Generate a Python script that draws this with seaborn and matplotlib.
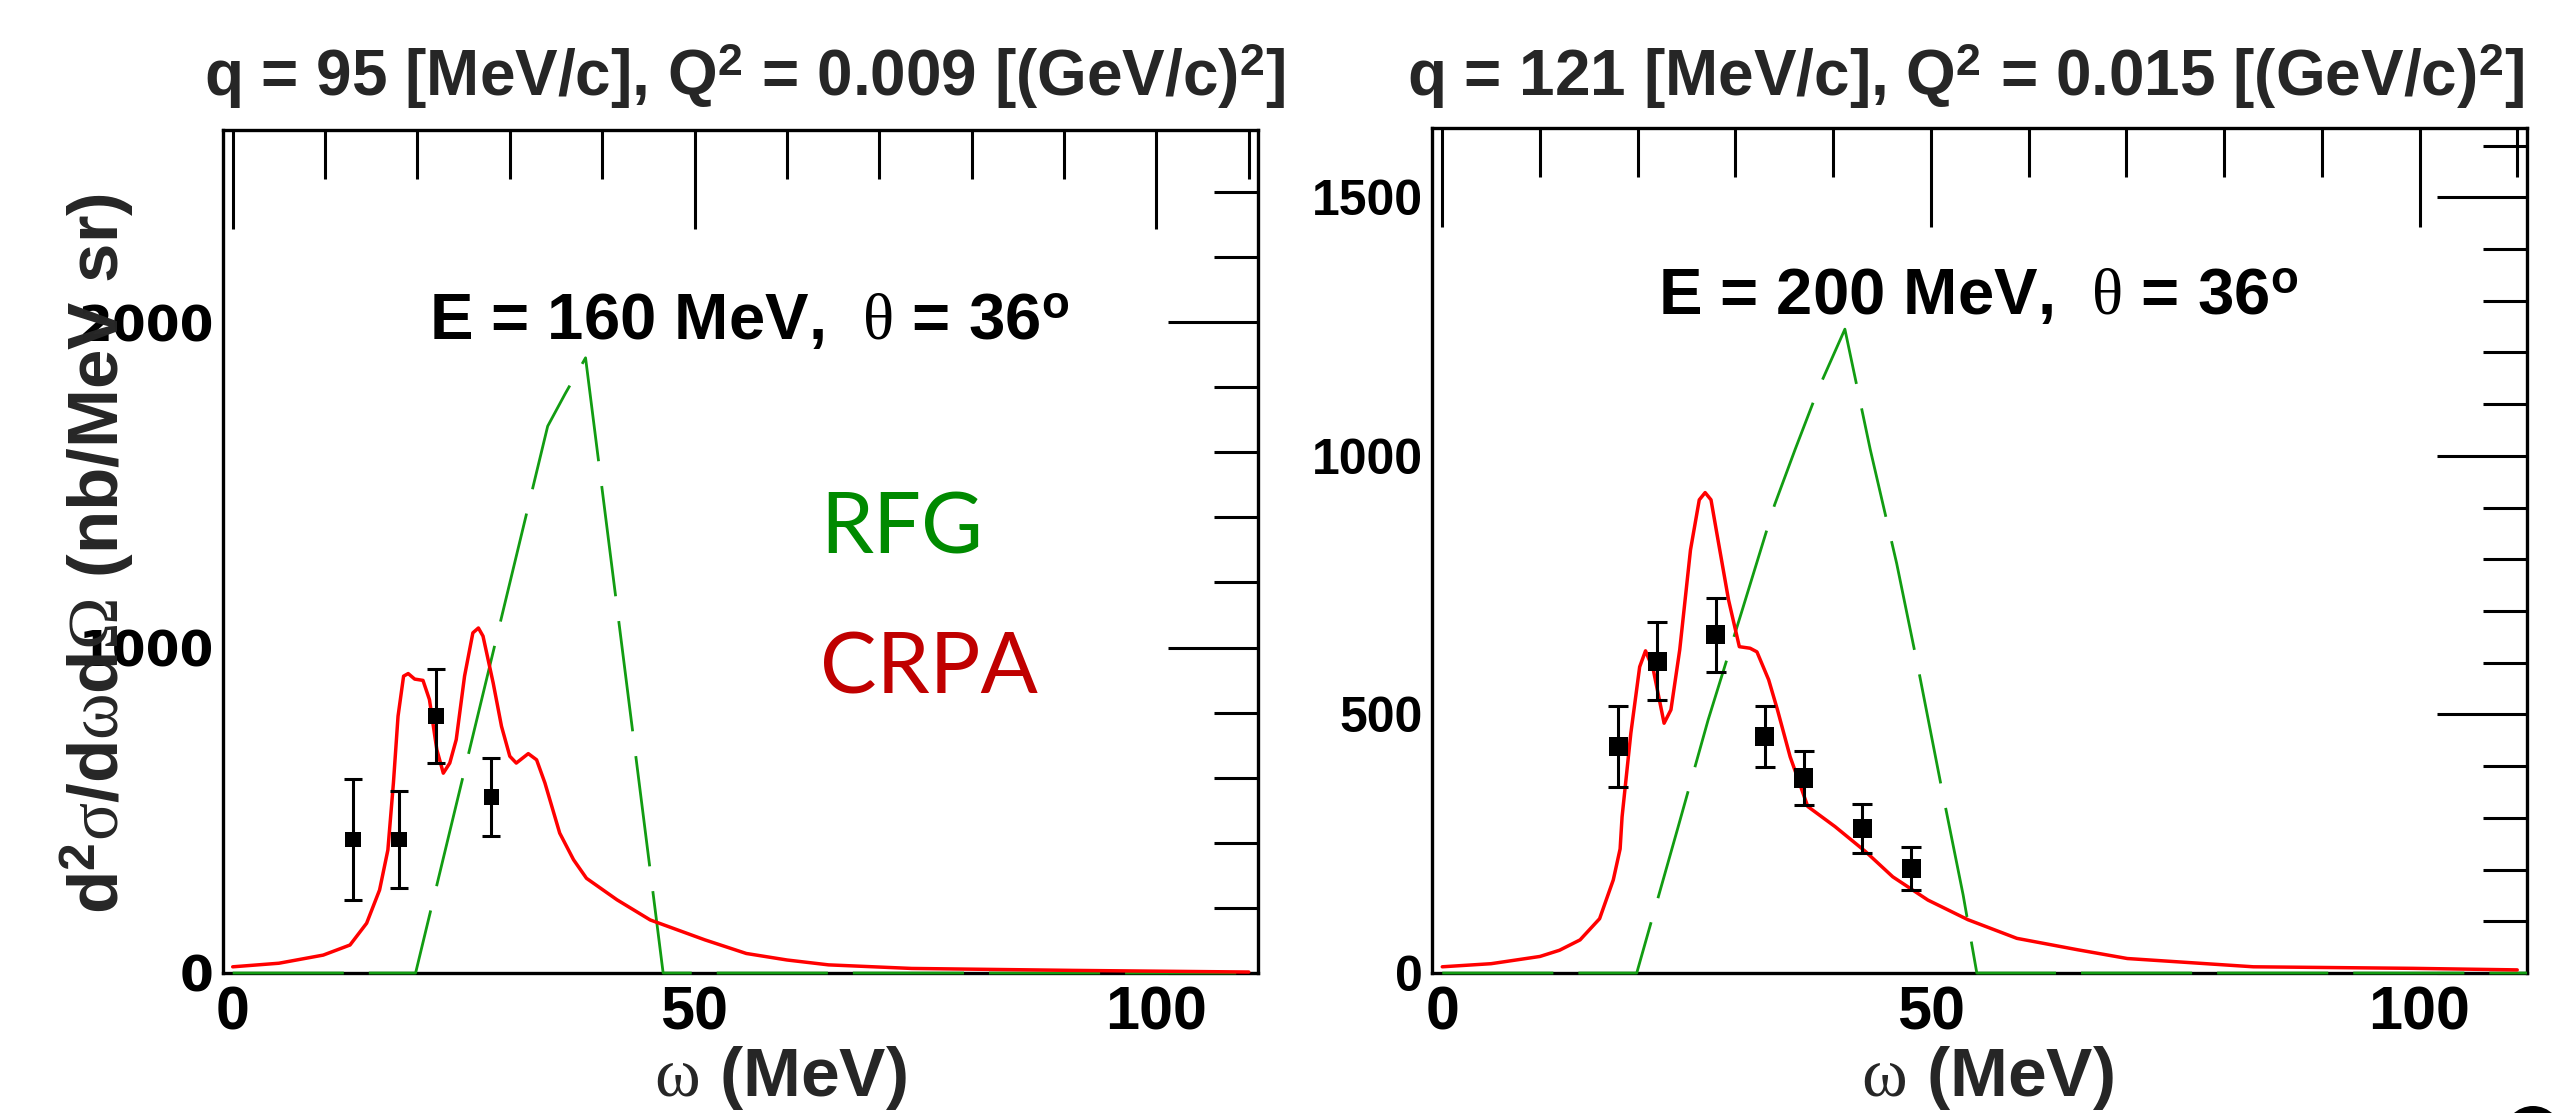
import numpy as np
import pandas as pd
import matplotlib
matplotlib.use("Agg")
import matplotlib.pyplot as plt
import seaborn as sns
from matplotlib.ticker import MultipleLocator, FixedLocator
from matplotlib.patches import Ellipse

# ---------------- data ----------------
# Left panel: q = 95 MeV/c, E = 160 MeV
crpa1_x = [0, 5, 9.8, 12.7, 14.5, 15.9, 16.8, 17.4, 17.9, 18.5, 19.0, 19.7, 20.6, 21.3, 22.1, 22.8,
           23.5, 24.2, 25.1, 26.0, 26.6, 27.1, 28.2, 29.1, 30.0, 30.7, 32.0, 32.9, 33.8, 35.4, 36.9,
           38.3, 41.6, 45.2, 51.1, 55.6, 60, 64.5, 73.5, 91, 110]
crpa1_y = [19, 30, 55, 86, 153, 255, 378, 584, 789, 912, 920, 903, 899, 840, 686, 614,
           645, 717, 912, 1045, 1060, 1035, 891, 758, 666, 645, 674, 655, 584, 430, 348,
           291, 225, 163, 102, 60, 40, 25, 14, 8, 3]
rfg1_x = [0, 19.8, 34.1, 36.0, 38.2, 46.6, 111]
rfg1_y = [0, 0, 1680, 1780, 1890, 0, 0]
data1_x = [13, 18, 22, 28]
data1_y = [410, 410, 790, 540]
data1_err = [185, 150, 145, 120]

# Right panel: q = 121 MeV/c, E = 200 MeV
crpa2_x = [0, 5, 10, 12, 14.1, 16.1, 17.5, 18.2, 18.4, 19.3, 20.2, 20.8, 21.6, 22.7, 23.4, 24.3,
           25.4, 26.3, 26.9, 27.5, 28.1, 29.3, 30.4, 31.5, 32.2, 33.4, 34.3, 35.6, 37.4, 40.2,
           43.3, 46.1, 49.7, 53.8, 58.8, 65, 70.1, 83, 99.3, 110]
crpa2_y = [12, 18, 32, 44, 64, 105, 180, 240, 302, 464, 592, 623, 586, 483, 509, 625,
           818, 915, 929, 915, 850, 721, 631, 628, 621, 567, 509, 418, 322, 283,
           235, 186, 141, 103, 67, 45, 28, 12, 9, 6]
rfg2_x = [0, 19.9, 24.1, 27.2, 30.6, 34.0, 36.1, 38.5, 41.2, 43.8, 46.5, 48.8, 51.0, 53.3, 54.7, 111]
rfg2_y = [0, 0, 280, 489, 696, 905, 1012, 1130, 1245, 1012, 792, 580, 367, 151, 0, 0]
data2_x = [18, 22, 28, 33, 37, 43, 48]
data2_y = [438, 603, 654, 457, 377, 280, 202]
data2_err = [79, 76, 71, 59, 53, 47, 42]

titles = [r"q = 95 [MeV/c], Q$^{2}$ = 0.009 [(GeV/c)$^{2}$]",
          r"q = 121 [MeV/c], Q$^{2}$ = 0.015 [(GeV/c)$^{2}$]"]
kin_labels = [r"E = 160 MeV,  $\mathsf{\theta}$ = 36$^{\mathrm{o}}$",
              r"E = 200 MeV,  $\mathsf{\theta}$ = 36$^{\mathrm{o}}$"]
xlabel = r"$\mathsf{\omega}$ (MeV)"
ylabel = r"d$^{2}\mathsf{\sigma}$/d$\mathsf{\omega}$d$\mathsf{\Omega}$ (nb/MeV sr)"

# ---------------- style ----------------
sns.set_theme(style="white")
plt.rcParams["font.family"] = ["Liberation Sans", "DejaVu Sans"]
plt.rcParams["font.weight"] = "bold"
plt.rcParams["mathtext.fontset"] = "custom"
plt.rcParams["mathtext.rm"] = "Liberation Sans:bold"
plt.rcParams["mathtext.bf"] = "Liberation Sans:bold"
plt.rcParams["mathtext.sf"] = "Liberation Serif:weight=normal"
plt.rcParams["mathtext.it"] = "Liberation Serif:weight=normal"

W, H = 2557, 1113
fig = plt.figure(figsize=(W / 100, H / 100), dpi=100)
fig.patch.set_facecolor("white")

axL = fig.add_axes([223 / W, (H - 973) / H, 1035 / W, 843 / H])
axR = fig.add_axes([1432 / W, (H - 973) / H, 1095 / W, 845 / H])

RED = "#ff0000"
GREEN = "#129c12"

panels = [
    (axL, crpa1_x, crpa1_y, rfg1_x, rfg1_y, data1_x, data1_y, data1_err, 2590, 1000, 200, 125, 6.5,
     35, ["DejaVu Sans"]),
    (axR, crpa2_x, crpa2_y, rfg2_x, rfg2_y, data2_x, data2_y, data2_err, 1634, 500, 100, 190, 7,
     36, ["Liberation Sans", "DejaVu Sans"]),
]

for (ax, cx, cy, rx, ry, dx, dy, de, ytop, ymaj, ymin, msize, cap, yfs, yfam) in panels:
    sns.lineplot(x=rx, y=ry, ax=ax, color=GREEN, lw=2.0, linestyle=(0, (40, 9)),
                 estimator=None, sort=False, clip_on=False, zorder=3)
    sns.lineplot(x=cx, y=cy, ax=ax, color=RED, lw=2.5, estimator=None, sort=False,
                 clip_on=False, zorder=3.2)
    ax.errorbar(dx, dy, yerr=de, fmt="none", ecolor="black", elinewidth=2.2,
                capsize=cap, capthick=2.2, zorder=4)
    sns.scatterplot(x=dx, y=dy, ax=ax, marker="s", s=msize, color="black",
                    edgecolor="none", zorder=5)
    ax.set_xlim(-1.05, 111.0)
    ax.set_ylim(0, ytop)
    ax.set_xlabel("")
    ax.set_ylabel("")
    ax.xaxis.set_major_locator(FixedLocator([0, 50, 100]))
    ax.xaxis.set_minor_locator(MultipleLocator(10))
    ax.yaxis.set_major_locator(MultipleLocator(ymaj))
    ax.yaxis.set_minor_locator(MultipleLocator(ymin))
    ax.tick_params(which="both", direction="in", top=True, right=True,
                   width=2.2, color="black")
    ax.xaxis.set_tick_params(which="major", length=71, pad=9)
    ax.xaxis.set_tick_params(which="minor", length=35)
    ax.yaxis.set_tick_params(which="major", length=65, pad=6.5)
    ax.yaxis.set_tick_params(which="minor", length=32)
    for lab in ax.get_xticklabels():
        lab.set_fontsize(44)
        lab.set_fontweight("bold")
        lab.set_color("black")
    for lab in ax.get_yticklabels():
        lab.set_fontsize(yfs)
        lab.set_fontweight("bold")
        lab.set_family(yfam)
        lab.set_color("black")
    for sp in ax.spines.values():
        sp.set_visible(True)
        sp.set_color("black")
        sp.set_linewidth(2.4)
        sp.set_zorder(2.5)
    ax.grid(False)
    ax.set_facecolor("white")

# kinematics labels
axL.text(55.9, 1947, kin_labels[0], ha="center", va="baseline", fontsize=47,
         fontweight="bold", color="black")
axR.text(54.8, 1274, kin_labels[1], ha="center", va="baseline", fontsize=47,
         fontweight="bold", color="black")

def ftext(x, y, s, **kw):
    fig.text(x / W, 1 - y / H, s, **kw)

# titles
ftext(745, 96, titles[0], ha="center", va="baseline", fontsize=46, fontweight="bold")
ftext(1966, 96, titles[1], ha="center", va="baseline", fontsize=46, fontweight="bold")
# x labels
ftext(780, 1096, xlabel, ha="center", va="baseline", fontsize=50, fontweight="bold")
ftext(1987, 1096, xlabel, ha="center", va="baseline", fontsize=50, fontweight="bold")
# y label
ftext(98, 553, ylabel, ha="center", va="center", rotation=90, fontsize=51, fontweight="bold")

# model labels
ftext(820, 553, "RFG", ha="left", va="baseline", fontsize=61, fontweight="normal",
      color="#008a00", family=["Lato", "DejaVu Sans"])
ftext(820, 693, "CRPA", ha="left", va="baseline", fontsize=61, fontweight="normal",
      color="#c00000", family=["Lato", "DejaVu Sans"])

# partial black disc at the bottom-right corner
fig.patches.append(Ellipse((2533 / W, 1 - 1135 / H), 58 / W, 58 / H,
                           transform=fig.transFigure, facecolor="black",
                           edgecolor="none", figure=fig))

fig.savefig("out.png", dpi=100, facecolor="white")
